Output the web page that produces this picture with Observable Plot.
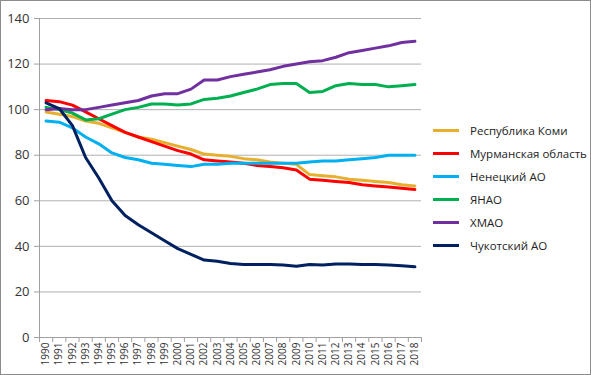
<!DOCTYPE html>
<html>
<head>
<meta charset="utf-8">
<script src="https://cdn.jsdelivr.net/npm/d3@7"></script>
<script src="https://cdn.jsdelivr.net/npm/@observablehq/plot@0.6"></script>
<style>
  body { margin: 0; background: #fff; }
  #wrap { position: relative; width: 591px; height: 375px; overflow: hidden; font-family: "Open Sans", sans-serif; }
  #frame { position: absolute; left: 0; top: 0; width: 589px; height: 373px; border: 1px solid #8c8c8c; pointer-events: none; }
  #legend { position: absolute; left: 433px; top: 119px; font-size: 11.5px; color: #222; }
  .item { display: flex; align-items: center; height: 23px; }
  .sw { width: 26px; height: 3px; margin-right: 11px; }
</style>
</head>
<body>
<div id="wrap">
  <div id="chart"></div>
  <div id="legend"></div>
  <div id="frame"></div>
</div>
<script>
const years = d3.range(1990, 2019);
const seriesNames = ["Республика Коми", "Мурманская область", "Ненецкий АО", "ЯНАО", "ХМАО", "Чукотский АО"];
const seriesColors = ["#E6B02E", "#FF0000", "#00B0F0", "#00B050", "#7030A0", "#002060"];

const komi = [99, 98, 97, 95, 94, 92, 90, 88, 87, 85.5, 84, 82.5, 80.5, 80, 79.5, 78.5, 78, 77, 76.5, 76, 71.5, 71, 70.5, 69.5, 69, 68.5, 68, 67, 66.5];
const murmansk = [104, 103.5, 102, 99, 96, 93, 90, 88, 86, 84, 82, 80.5, 78, 77.5, 77, 76.5, 75.5, 75, 74.5, 73.5, 69.5, 69, 68.5, 68, 67, 66.5, 66, 65.5, 65];
const nenets = [95, 94.5, 92, 88, 85, 81, 79, 78, 76.5, 76, 75.5, 75, 76, 76, 76.5, 76.5, 76.5, 76.5, 76.5, 76.5, 77, 77.5, 77.5, 78, 78.5, 79, 80, 80, 80];
const yanao = [101, 100, 98.5, 95.5, 96, 98, 100, 101, 102.5, 102.5, 102, 102.5, 104.5, 105, 106, 107.5, 109, 111, 111.5, 111.5, 107.5, 108, 110.5, 111.5, 111, 111, 110, 110.5, 111];
const khmao = [100, 100.5, 100, 100, 101, 102, 103, 104, 106, 107, 107, 109, 113, 113, 114.5, 115.5, 116.5, 117.5, 119, 120, 121, 121.5, 123, 125, 126, 127, 128, 129.5, 130];
const chukotka = [103, 100.5, 93, 79, 70, 60, 53.5, 49.5, 46, 42.5, 39, 36.5, 34, 33.5, 32.5, 32, 32, 32, 31.8, 31.3, 32, 31.8, 32.3, 32.3, 32, 32, 31.8, 31.5, 31];
const yTicks = [0, 20, 40, 60, 80, 100, 120, 140];

const allValues = [komi, murmansk, nenets, yanao, khmao, chukotka];
const data = [];
allValues.forEach((vals, s) => vals.forEach((v, i) => data.push({year: years[i], value: v, series: seriesNames[s]})));
const boundaries = years.map(y => y - 0.5).concat([years[years.length - 1] + 0.5]);

const chart = Plot.plot({
  width: 591,
  height: 375,
  marginLeft: 39,
  marginRight: 170,
  marginTop: 18,
  marginBottom: 38,
  style: {fontFamily: "Open Sans, sans-serif", background: "#fff"},
  x: {domain: [1989.5, 2018.5]},
  y: {domain: [0, 140]},
  color: {domain: seriesNames, range: seriesColors},
  marks: [
    Plot.gridY(yTicks, {stroke: "#b0b0b0", strokeOpacity: 1, strokeWidth: 1}),
    Plot.ruleX([1989.5], {stroke: "#a0a0a0"}),
    Plot.ruleY([0], {stroke: "#a0a0a0"}),
    Plot.axisY(yTicks, {tickSize: 5, tickPadding: 5, fontSize: 13, color: "#333", stroke: "#a0a0a0", label: null}),
    Plot.axisX(boundaries, {tickSize: 5, tickFormat: () => "", stroke: "#a0a0a0", label: null}),
    Plot.axisX(years, {tickSize: 0, tickPadding: 5, tickRotate: -90, tickFormat: d => String(d), fontSize: 10, color: "#333", label: null}),
    Plot.line(data, {x: "year", y: "value", z: "series", stroke: "series", strokeWidth: 3, curve: "linear"})
  ]
});
document.getElementById("chart").appendChild(chart);

const legend = document.getElementById("legend");
seriesNames.forEach((n, i) => {
  const it = document.createElement("div");
  it.className = "item";
  const sw = document.createElement("div");
  sw.className = "sw";
  sw.style.background = seriesColors[i];
  const t = document.createElement("span");
  t.textContent = n;
  it.appendChild(sw); it.appendChild(t);
  legend.appendChild(it);
});
</script>
</body>
</html>
